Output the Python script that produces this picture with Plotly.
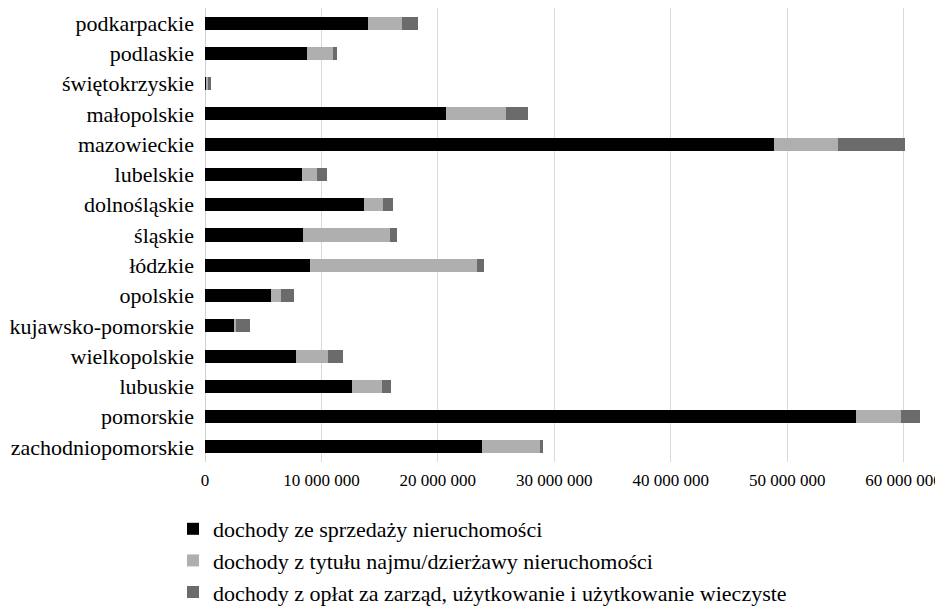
import plotly.graph_objects as go

# Voivodeships, listed top to bottom as they appear on the chart
regions = [
    "podkarpackie", "podlaskie", "świętokrzyskie", "małopolskie", "mazowieckie",
    "lubelskie", "dolnośląskie", "śląskie", "łódzkie", "opolskie",
    "kujawsko-pomorskie", "wielkopolskie", "lubuskie", "pomorskie",
    "zachodniopomorskie",
]

# Income from property sales
sales = [14030000, 8790000, 120000, 20680000, 48830000, 8360000, 13660000,
         8390000, 9020000, 5670000, 2520000, 7850000, 12660000, 55930000,
         23770000]

# Income from rent / lease of property
rent = [2920000, 2230000, 200000, 5150000, 5500000, 1290000, 1600000,
        7500000, 14320000, 890000, 140000, 2750000, 2550000, 3870000,
        5070000]

# Income from management, use and perpetual usufruct fees
fees = [1370000, 290000, 170000, 1950000, 5760000, 860000, 920000,
        570000, 660000, 1060000, 1170000, 1290000, 770000, 1630000,
        170000]

series_names = [
    "dochody ze sprzedaży nieruchomości",
    "dochody z tytułu najmu/dzierżawy nieruchomości",
    "dochody z opłat za zarząd, użytkowanie i użytkowanie wieczyste",
]
series_values = [sales, rent, fees]
series_colors = ["#000000", "#afafaf", "#6b6b6b"]

x_ticks = [0, 10000000, 20000000, 30000000, 40000000, 50000000, 60000000]

FONT = "Liberation Serif"

fig = go.Figure()
for i, (name, vals, col) in enumerate(zip(series_names, series_values, series_colors)):
    fig.add_trace(go.Bar(
        y=regions, x=vals, name=name, orientation="h",
        marker=dict(color=col, line=dict(width=0)),
        legendgroup=f"g{i}",
    ))

fig.update_layout(
    barmode="stack",
    bargap=0.57,
    width=935, height=609,
    margin=dict(l=205, r=0, t=8, b=147, autoexpand=False),
    plot_bgcolor="white", paper_bgcolor="white",
    separators=", ",
    font=dict(family=FONT, color="#000000"),
    showlegend=True,
    legend=dict(
        xref="container", yref="container",
        x=173 / 935, y=1 - 508 / 609,
        xanchor="left", yanchor="top",
        orientation="v",
        traceorder="normal",
        tracegroupgap=9,
        font=dict(family=FONT, size=22, color="#000000"),
        bgcolor="rgba(0,0,0,0)",
    ),
    xaxis=dict(
        range=[0, 62700000],
        tickvals=x_ticks,
        tickformat=",d",
        tickangle=0,
        automargin=False,
        ticklabeloverflow="allow",
        showgrid=True, gridcolor="#d9d9d9", gridwidth=1,
        zeroline=True, zerolinecolor="#d0d0d0", zerolinewidth=1,
        ticks="", ticklabelstandoff=6,
        tickfont=dict(family=FONT, size=17, color="#000000"),
        fixedrange=True,
    ),
    yaxis=dict(
        autorange="reversed",
        categoryorder="array", categoryarray=regions,
        automargin=False,
        showgrid=False, zeroline=False,
        ticks="", ticklabelstandoff=10,
        tickfont=dict(family=FONT, size=22, color="#000000"),
        fixedrange=True,
    ),
)

fig.write_html("out.html")
